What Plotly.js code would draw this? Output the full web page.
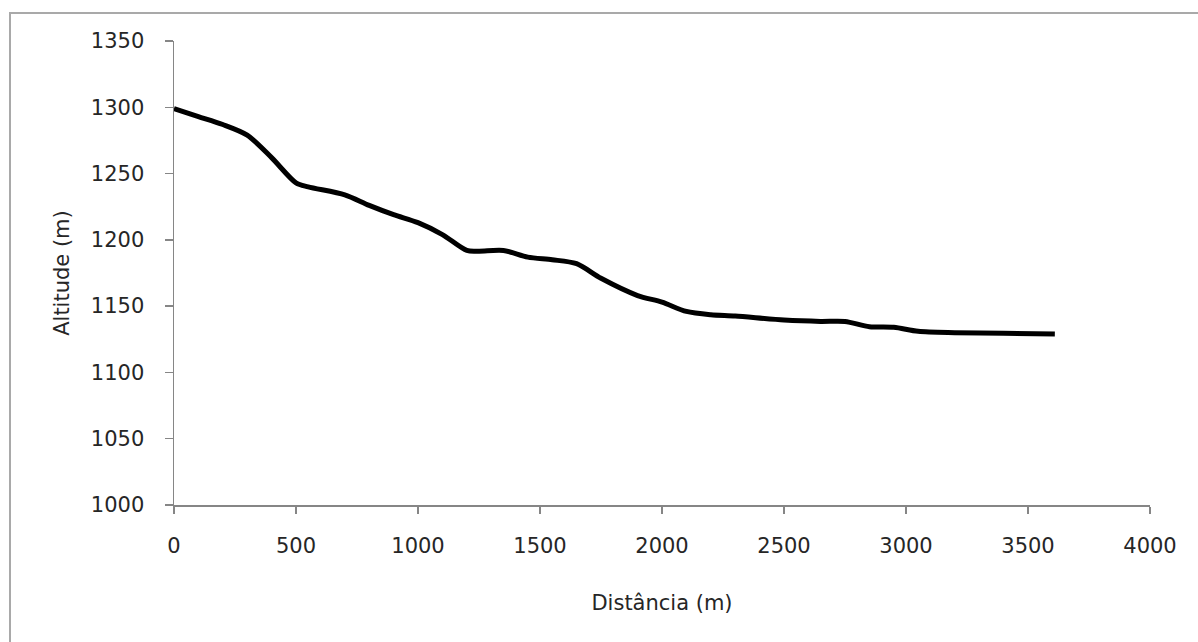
<!DOCTYPE html>
<html>
<head>
<meta charset="utf-8">
<script src="https://cdn.plot.ly/plotly-3.0.1.min.js"></script>
<style>
  html, body { margin: 0; padding: 0; background: #ffffff; overflow: hidden; }
  #frame { position: absolute; left: 9px; top: 12px; width: 1300px; height: 800px;
           border: 2px solid #a9a9a9; box-sizing: border-box; pointer-events: none; }
  #chart { position: absolute; left: 0; top: 0; width: 1198px; height: 642px; }
</style>
</head>
<body>
<div id="frame"></div>
<div id="chart"></div>
<script>
const distance = [0, 100, 200, 300, 400, 500, 550, 700, 800, 900, 1000, 1100, 1200, 1250, 1350, 1450, 1550, 1650, 1750, 1900, 2000, 2100, 2200, 2300, 2500, 2650, 2750, 2850, 2950, 3050, 3200, 3400, 3610];
const altitude = [1299, 1293, 1287, 1279, 1262, 1243, 1240, 1234, 1226, 1219, 1213, 1204, 1192, 1191.5, 1192, 1187, 1185, 1182, 1171, 1158, 1153, 1146, 1143.5, 1142.5, 1139.5, 1138.5, 1138.5, 1134.5, 1134, 1131, 1130, 1129.5, 1129];

const xTitle = 'Distância (m)';
const yTitle = 'Altitude (m)';

const fontFamily = '"DejaVu Sans", "Open Sans", sans-serif';
const textColor = '#262626';
const axisColor = '#868686';

const trace = {
  x: distance,
  y: altitude,
  type: 'scatter',
  mode: 'lines',
  line: { color: '#000000', width: 5, shape: 'spline', smoothing: 0.8 },
  hoverinfo: 'x+y'
};

const layout = {
  width: 1198,
  height: 642,
  margin: { l: 174, r: 48, t: 41, b: 137 },
  paper_bgcolor: 'rgba(0,0,0,0)',
  plot_bgcolor: 'rgba(0,0,0,0)',
  showlegend: false,
  font: { family: fontFamily, size: 21, color: textColor },
  xaxis: {
    range: [0, 4000],
    dtick: 500,
    tick0: 0,
    showgrid: false,
    zeroline: false,
    showline: true,
    linecolor: axisColor,
    linewidth: 1.5,
    ticks: 'outside',
    ticklen: 7,
    tickwidth: 1.5,
    tickcolor: axisColor,
    ticklabelstandoff: 14,
    tickfont: { family: fontFamily, size: 21, color: textColor },
    title: { text: xTitle, font: { family: fontFamily, size: 21, color: textColor }, standoff: 38 },
    fixedrange: true
  },
  yaxis: {
    range: [1000, 1350],
    dtick: 50,
    tick0: 1000,
    showgrid: false,
    zeroline: false,
    showline: true,
    linecolor: axisColor,
    linewidth: 1.5,
    ticks: 'outside',
    ticklen: 8,
    tickwidth: 1.5,
    tickcolor: axisColor,
    ticklabelstandoff: 16,
    tickfont: { family: fontFamily, size: 21, color: textColor },
    title: { text: yTitle, font: { family: fontFamily, size: 21, color: textColor }, standoff: 15 },
    fixedrange: true
  }
};

Plotly.newPlot('chart', [trace], layout, { displayModeBar: false, staticPlot: true });
</script>
</body>
</html>
